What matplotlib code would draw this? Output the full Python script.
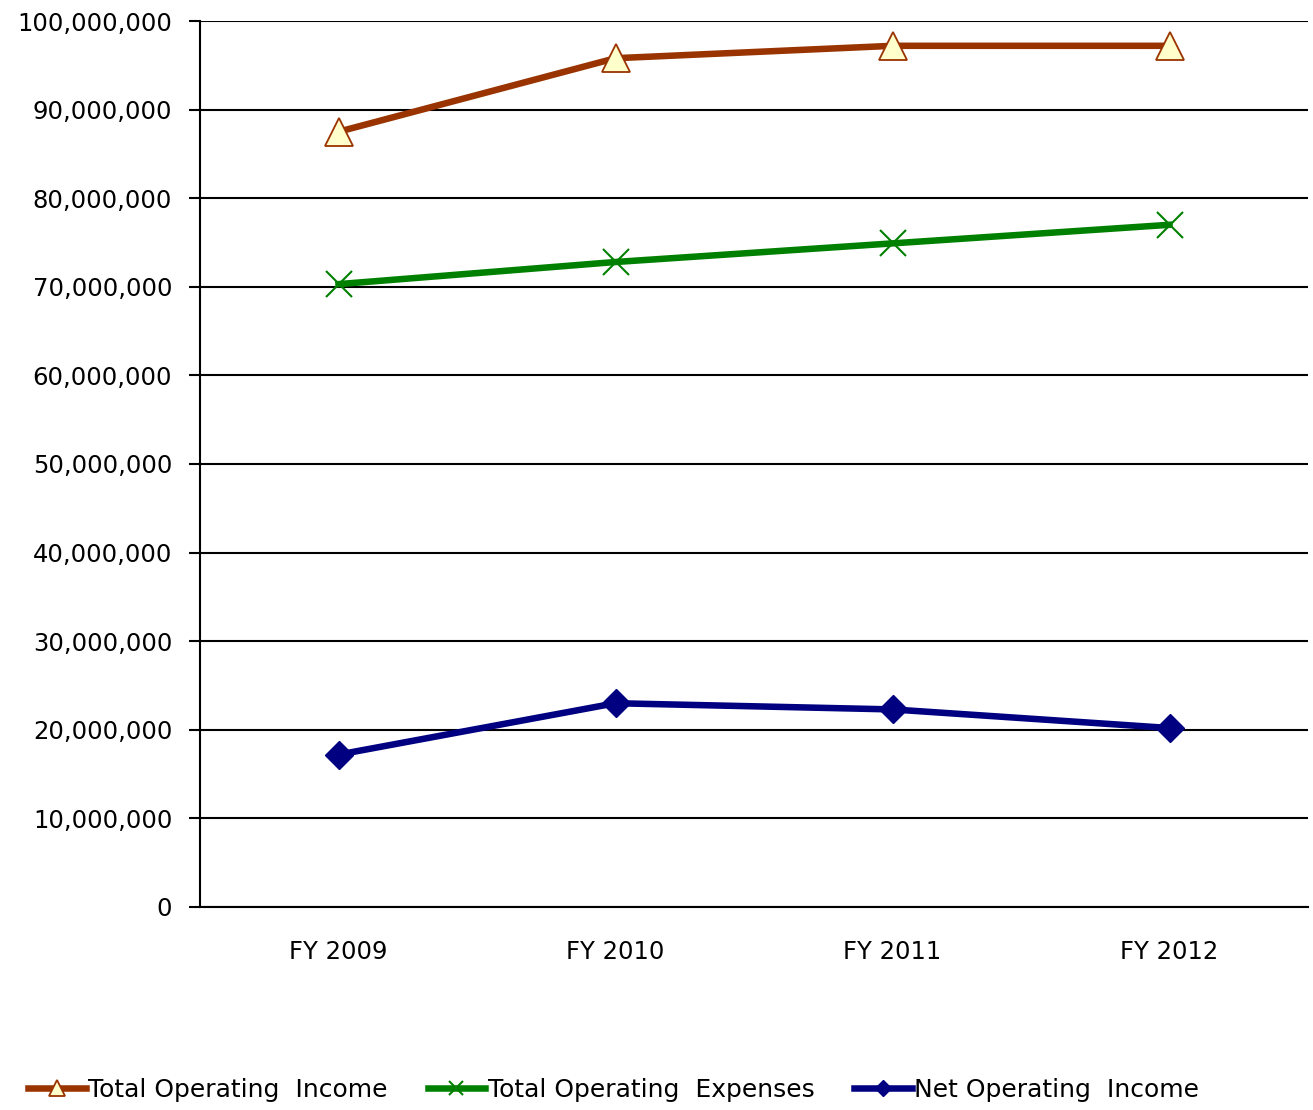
import matplotlib
matplotlib.use('Agg')
import matplotlib.pyplot as plt
import matplotlib.ticker as mticker

years = ['FY 2009', 'FY 2010', 'FY 2011', 'FY 2012']
total_income = [87.5e6, 95.8e6, 97.2e6, 97.2e6]
total_expenses = [70.3e6, 72.8e6, 74.9e6, 77.0e6]
net_income = [17.2e6, 23.0e6, 22.3e6, 20.2e6]

plt.rcParams['font.family'] = ['DejaVu Sans']

fig = plt.figure(figsize=(13.13, 11.10), dpi=100)
ax = fig.add_axes([200/1313, 1 - 907/1110, 1108/1313, 886/1110])

x = range(len(years))
ax.plot(x, total_income, color='#993300', lw=4.7, marker='^', ms=20,
        mfc='#FFFFCC', mec='#993300', mew=1.3, label='Total Operating  Income',
        zorder=3, solid_joinstyle='round')
ax.plot(x, total_expenses, color='#008000', lw=4.7, marker='x', ms=19,
        mec='#008000', mew=1.5, label='Total Operating  Expenses',
        zorder=3, solid_joinstyle='round')
ax.plot(x, net_income, color='#000080', lw=4.7, marker='D', ms=14,
        mfc='#000080', mec='#000080', label='Net Operating  Income',
        zorder=3, solid_joinstyle='round')

ax.set_xlim(-0.5, 3.5)
ax.set_ylim(0, 100e6)
ax.set_xticks(list(x))
ax.set_xticklabels(years, fontsize=17.5)
ax.tick_params(axis='x', length=0, pad=24)
ax.yaxis.set_major_locator(mticker.MultipleLocator(10e6))
ax.yaxis.set_major_formatter(mticker.FuncFormatter(lambda v, p: f'{v:,.0f}'))
ax.tick_params(axis='y', labelsize=17.5, length=8, width=1.5, pad=12)
ax.grid(axis='y', color='black', lw=1.5)
ax.set_axisbelow(True)
for s in ['top', 'right']:
    ax.spines[s].set_visible(False)
ax.spines['left'].set_linewidth(1.5)
ax.spines['bottom'].set_linewidth(1.5)

fig.legend(loc='center left', bbox_to_anchor=(0.008, 1 - 1090/1110), ncol=3,
           frameon=False, fontsize=18, handlelength=2.3, handletextpad=0.1,
           columnspacing=1.6, markerscale=0.55, borderpad=0.2)

fig.savefig('out.png', dpi=100)
